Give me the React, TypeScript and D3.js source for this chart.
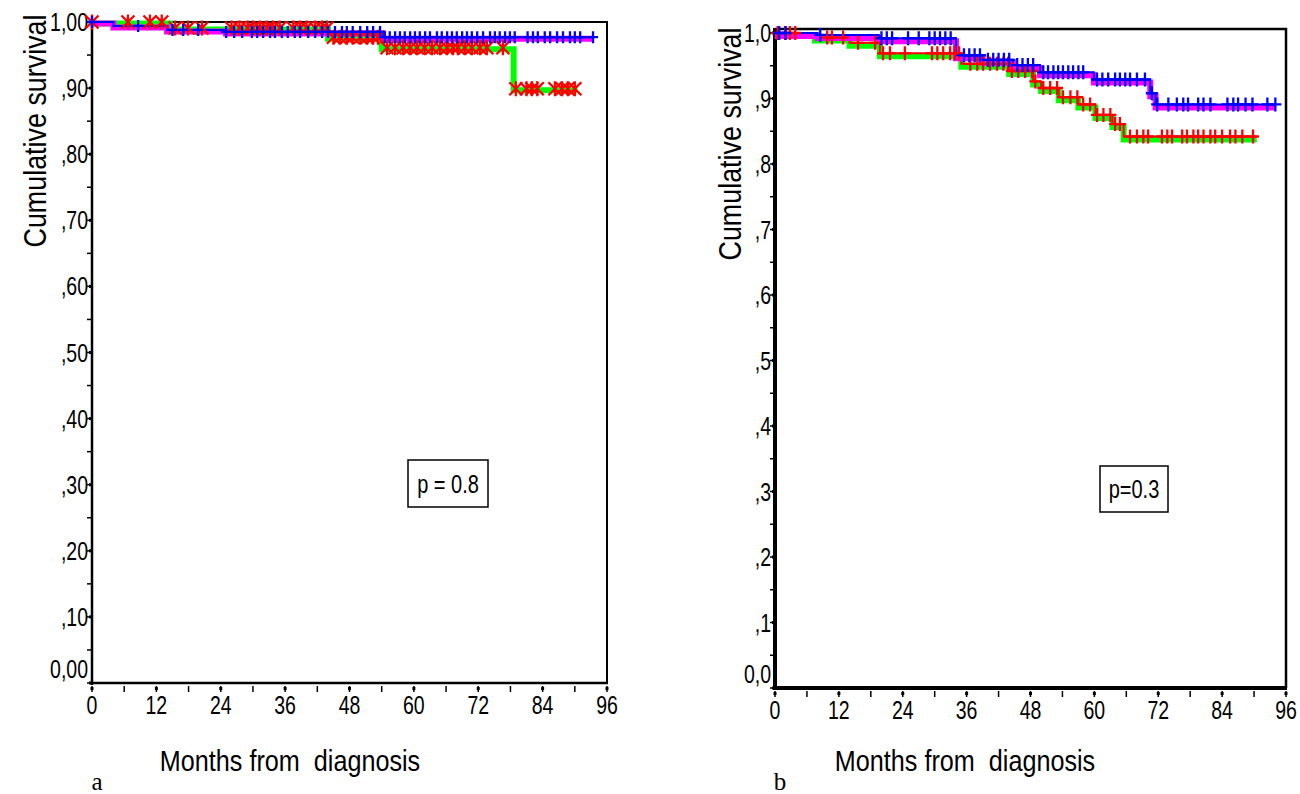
import React from "react";
import * as d3 from "d3";

// axis ticks
const months = [0, 12, 24, 36, 48, 60, 72, 84, 96];
const minorMonths = [6, 18, 30, 42, 54, 66, 78, 90];
const survTicks = [0, 0.1, 0.2, 0.3, 0.4, 0.5, 0.6, 0.7, 0.8, 0.9, 1];
const minorSurv = [0.05, 0.15, 0.25, 0.35, 0.45, 0.55, 0.65, 0.75, 0.85, 0.95];
const labelsA = ["0,00", ",10", ",20", ",30", ",40", ",50", ",60", ",70", ",80", ",90", "1,00"];
const labelsB = ["0,0", ",1", ",2", ",3", ",4", ",5", ",6", ",7", ",8", ",9", "1,0"];

// panel a
const aGreenTimes = [0, 14.5, 44, 54, 78.6, 90.5];
const aGreenSurv = [1, 0.991, 0.977, 0.961, 0.899, 0.899];
const aMagentaTimes = [0, 4, 14, 25, 54.2, 93.4];
const aMagentaSurv = [1, 0.994, 0.988, 0.985, 0.977, 0.977];
const aRedCensor = [0, 6.7, 10.8, 13, 15.5, 17.9, 20.5, 26, 27.5, 29, 30, 31.3, 32.6, 33.7, 35, 37.5, 38.8, 40,
  41.6, 42.9, 43.8, 45, 46.2, 47.5, 48.6, 50, 51.3, 52.4, 53.3, 55, 56.5, 58, 59.3, 60.6, 62, 63.4, 64.9, 66.2,
  67.3, 68.2, 69.5, 70.8, 72.3, 73.6, 76.6, 79, 81, 82, 83, 86.3, 87.6, 88.7, 90];
const aBlueCensor = [0, 8.6, 15, 17, 19.8, 25, 26.5, 28, 29.8, 30.8, 31.9, 33.2, 34.1, 35.4, 36.5, 37.8, 38.8,
  40.3, 41.6, 42.9, 44, 45.3, 46.6, 47.5, 48.6, 50, 51.3, 52.4, 53.7, 54.6, 55.5, 56.5, 57.4, 58.3, 59.3, 60.2,
  61.1, 62.1, 63, 64.3, 65.2, 66.2, 67.1, 68, 69, 69.9, 70.8, 71.8, 72.9, 74.2, 75.1, 76, 77, 77.9, 78.8, 81.2,
  82.2, 83.1, 84.4, 85.4, 86.7, 87.8, 89.1, 90, 91, 93.4];

// panel b
const bGreenTimes = [0, 7.5, 14, 19.7, 35, 44, 48.5, 50, 53.3, 57, 60.2, 63.4, 65.5, 90.5];
const bGreenSurv = [1, 0.993, 0.985, 0.969, 0.953, 0.942, 0.926, 0.916, 0.902, 0.891, 0.875, 0.861, 0.842, 0.842];
const bMagentaTimes = [0, 8, 19.5, 34, 39, 44.7, 49.8, 59.9, 70.5, 71.5, 94];
const bMagentaSurv = [1, 0.997, 0.992, 0.966, 0.959, 0.951, 0.94, 0.929, 0.908, 0.891, 0.891];
const bRedCensor = [0.5, 1.9, 2.8, 3.8, 9.8, 10.7, 12.8, 15.6, 18.8, 20.3, 21.6, 24.4, 29.5, 30.5, 31.6, 32.9,
  33.8, 34.6, 36.7, 38, 39.1, 40.4, 41.7, 42.9, 43.8, 44.5, 45.7, 47, 48.3, 48.9, 50.4, 51.7, 53, 54.1, 55.5,
  56.8, 57.9, 59.2, 60.5, 61.7, 63, 63.9, 64.8, 66.7, 68, 69.2, 70.1, 72.7, 73.7, 74.6, 76.5, 77.4, 78.6, 79.5,
  80.5, 81.8, 82.7, 84, 85.5, 86.5, 87.8, 89.8];
const bBlueCensor = [0.8, 2, 8.5, 20, 21, 22, 25, 27, 29, 30, 31, 32, 33, 35.5, 36.5, 37.5, 38.5, 40, 41, 42, 43,
  44, 45.5, 46.5, 47.5, 48.5, 50.4, 51.3, 52.3, 53.2, 54.1, 55.1, 56, 57, 57.9, 60.5, 61.5, 62.6, 63.9, 64.8,
  65.8, 66.7, 68, 69.5, 70.8, 71.8, 73.9, 75.5, 76.7, 77.6, 79.5, 80.5, 81.8, 85, 86.1, 87, 88.4, 89.7, 92.5, 94];

const font = "'Liberation Sans', Arial, sans-serif";

const survAt = (times, surv, t) => surv[Math.max(0, d3.bisectRight(times, t) - 1)];

// condensed text (the original uses a narrow face)
function Narrow({ x, y, size, anchor = "middle", sx = 0.8, rotate = 0, children }) {
  return (
    <text transform={`translate(${x},${y}) rotate(${rotate}) scale(${sx},1)`} textAnchor={anchor}
      fontFamily={font} fontSize={size} style={{ whiteSpace: "pre" }}>{children}</text>
  );
}

function Panel({ x0, x1, y0, y1, frameTop, axisW, frameW, labels, letter, groups, pText, pBox, shift, ylab, xlabX }) {
  const x = d3.scaleLinear().domain([0, 96]).range([x0, x1]);
  const y = d3.scaleLinear().domain([0, 1]).range([y0, y1]);
  const line = d3.line().curve(d3.curveStepAfter);

  return (
    <g>
      {/* frame */}
      <path d={`M${x0},${frameTop}H${x1}V${y0}`} fill="none" stroke="#000" strokeWidth={frameW} />
      <line x1={x0} x2={x0} y1={frameTop - 1} y2={y0 + 2} stroke="#000" strokeWidth={axisW} />
      <line x1={x0 - 1} x2={x1 + 1} y1={y0} y2={y0} stroke="#000" strokeWidth={axisW} />

      {/* y ticks */}
      {survTicks.map((v, i) => (
        <g key={"y" + i}>
          <line x1={x0 - 5} x2={x0} y1={y(v)} y2={y(v)} stroke="#000" strokeWidth={1.5} />
          <rect x={x0 - 3} y={y(v) - 1.5} width={3} height={3} fill="#000" />
          <Narrow x={x0 - 4} y={y(v) + (i === 0 ? -5 : 9)} size={25} anchor="end" sx={0.78}>{labels[i]}</Narrow>
        </g>
      ))}
      {minorSurv.map((v, i) => (
        <line key={"ym" + i} x1={x0 - 5} x2={x0} y1={y(v)} y2={y(v)} stroke="#000" strokeWidth={1.5} />
      ))}

      {/* x ticks */}
      {months.map((m) => (
        <g key={"x" + m}>
          <line x1={x(m)} x2={x(m)} y1={y0 + 3} y2={y0 + 9} stroke="#000" strokeWidth={1.5} />
          <rect x={x(m) - 1.5} y={y0 + 4} width={3} height={3} fill="#000" />
          <Narrow x={x(m)} y={y0 + 31} size={25} sx={0.78}>{m}</Narrow>
        </g>
      ))}
      {minorMonths.map((m) => (
        <line key={"xm" + m} x1={x(m)} x2={x(m)} y1={y0 + 3} y2={y0 + 9} stroke="#000" strokeWidth={1.5} />
      ))}

      {/* curves */}
      {groups.map((g, gi) => {
        const pts = g.times.map((t, i) => [x(t), y(g.surv[i])]);
        return (
          <g key={"g" + gi}>
            <path d={line(pts)} fill="none" stroke={g.color} strokeWidth={6} transform={`translate(0,${shift})`} />
            {g.thin && <path d={line(pts)} fill="none" stroke={g.markColor} strokeWidth={2} />}
          </g>
        );
      })}
      {groups.map((g, gi) => (
        <g key={"c" + gi} stroke={g.markColor} strokeWidth={2.3} fill="none">
          {g.censor.map((t, i) => {
            const cx = x(t);
            const cy = y(survAt(g.times, g.surv, t));
            const d = g.mark === "star"
              ? `M${cx - 6.5},${cy - 6.5}L${cx + 6.5},${cy + 6.5}M${cx - 6.5},${cy + 6.5}L${cx + 6.5},${cy - 6.5}M${cx},${cy - 7.5}V${cy + 7.5}`
              : `M${cx - g.pw},${cy}H${cx + g.pw}M${cx},${cy - g.ph}V${cy + g.ph}`;
            return <path key={i} d={d} />;
          })}
        </g>
      ))}

      {/* p value */}
      <rect x={pBox[0]} y={pBox[1]} width={pBox[2]} height={pBox[3]} fill="#fff" stroke="#000" strokeWidth={1.5} />
      <Narrow x={pBox[0] + pBox[2] / 2} y={pBox[1] + pBox[3] / 2 + 9} size={25} sx={0.8}>{pText}</Narrow>

      {/* titles */}
      <Narrow x={ylab[0]} y={ylab[1]} size={32} sx={0.84} rotate={-90}>Cumulative survival</Narrow>
      <Narrow x={xlabX} y={771} size={30} sx={0.84}>{"Months from  diagnosis"}</Narrow>
      <text x={x0 + 5} y={790} textAnchor="middle" fontFamily="'Liberation Serif', 'Times New Roman', serif"
        fontSize={25}>{letter}</text>
    </g>
  );
}

export default function App() {
  return (
    <svg width={1300} height={794} style={{ position: "absolute", left: 0, top: 0, background: "#fff" }}>
      <rect width={1300} height={794} fill="#fff" />
      <Panel
        x0={92} x1={607} y0={683} y1={22} frameTop={22} axisW={2.5} frameW={2} labels={labelsA} letter="a"
        shift={1.5} pText="p = 0.8" pBox={[408, 460, 80, 47]} ylab={[46, 131]} xlabX={290}
        groups={[
          { times: aGreenTimes, surv: aGreenSurv, color: "#00ff00", markColor: "#ff0000", censor: aRedCensor, mark: "star" },
          { times: aMagentaTimes, surv: aMagentaSurv, color: "#ff00ff", markColor: "#0000ff", censor: aBlueCensor, mark: "plus", pw: 5, ph: 6, thin: true },
        ]}
      />
      <Panel
        x0={775} x1={1286} y0={688} y1={33} frameTop={29} axisW={4} frameW={2.5} labels={labelsB} letter="b"
        shift={3} pText="p=0.3" pBox={[1100, 466, 68, 46]} ylab={[741, 144]} xlabX={965}
        groups={[
          { times: bGreenTimes, surv: bGreenSurv, color: "#00ff00", markColor: "#ff0000", censor: bRedCensor, mark: "plus", pw: 6, ph: 7, thin: true },
          { times: bMagentaTimes, surv: bMagentaSurv, color: "#ff00ff", markColor: "#0000ff", censor: bBlueCensor, mark: "plus", pw: 6, ph: 7, thin: true },
        ]}
      />
    </svg>
  );
}
